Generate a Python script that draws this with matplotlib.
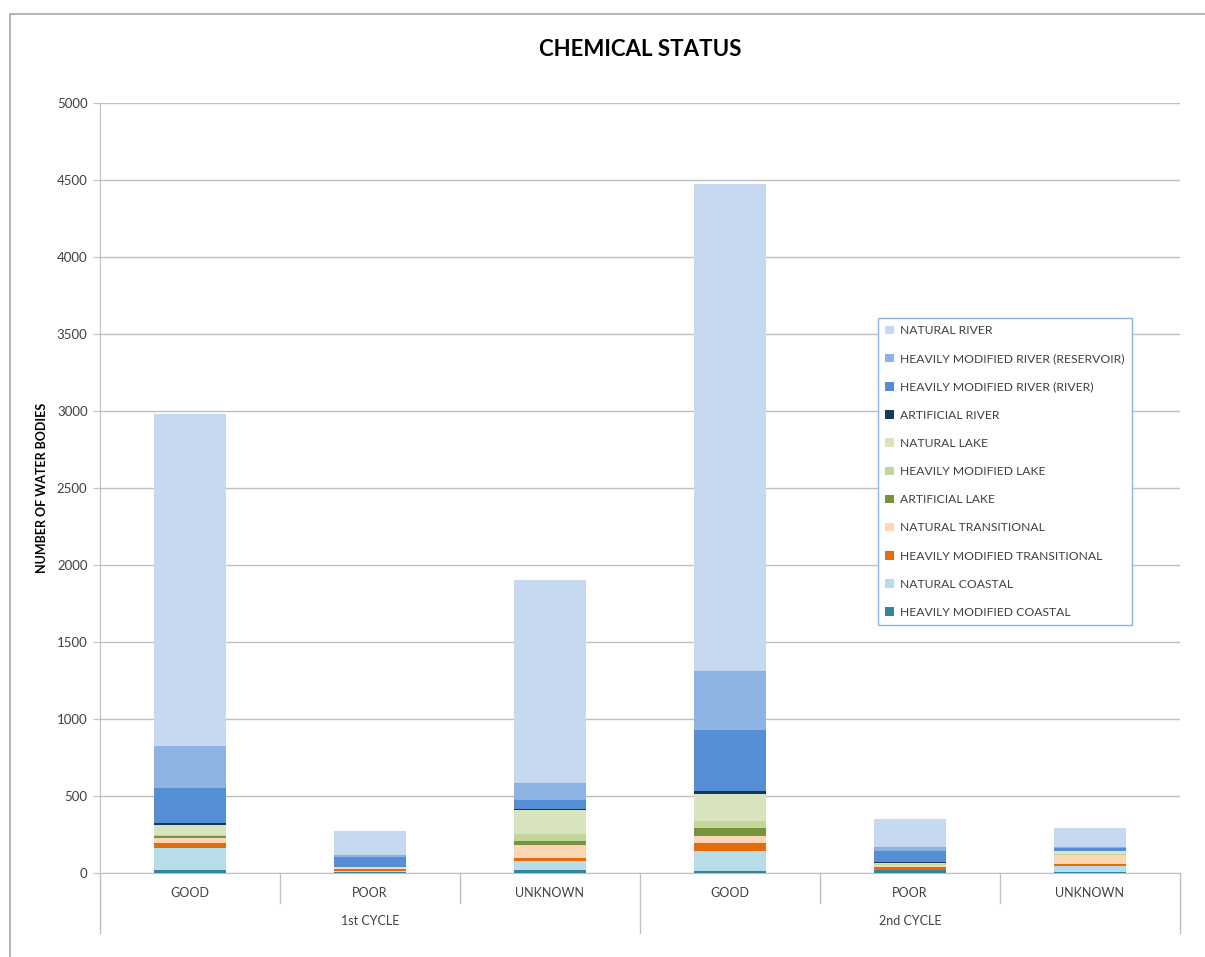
import matplotlib as mpl
import matplotlib.pyplot as plt
import numpy as np

mpl.rcParams['font.family'] = ['Lato', 'DejaVu Sans']

# Categories
statuses = ['GOOD', 'POOR', 'UNKNOWN', 'GOOD', 'POOR', 'UNKNOWN']
cycles = ['1st CYCLE', '2nd CYCLE']

# Series (bottom to top of each stack)
hm_coastal = [20, 8, 19, 15, 17, 8]
natural_coastal = [140, 8, 60, 131, 5, 37]
hm_transitional = [32, 12, 21, 47, 18, 12]
natural_transitional = [35, 12, 80, 49, 12, 58]
artificial_lake = [13, 0, 28, 47, 3, 2]
hm_lake = [8, 0, 47, 49, 3, 5]
natural_lake = [65, 2, 155, 178, 5, 20]
artificial_river = [12, 0, 6, 15, 8, 0]
hm_river_river = [225, 60, 58, 396, 73, 20]
hm_river_reservoir = [275, 13, 110, 384, 28, 5]
natural_river = [2153, 160, 1316, 3160, 180, 125]

series = [
    ('HEAVILY MODIFIED COASTAL', hm_coastal, '#31859c'),
    ('NATURAL COASTAL', natural_coastal, '#b7dee8'),
    ('HEAVILY MODIFIED TRANSITIONAL', hm_transitional, '#e46c0a'),
    ('NATURAL TRANSITIONAL', natural_transitional, '#fcd5b5'),
    ('ARTIFICIAL LAKE', artificial_lake, '#77933c'),
    ('HEAVILY MODIFIED LAKE', hm_lake, '#c3d69b'),
    ('NATURAL LAKE', natural_lake, '#d7e4bd'),
    ('ARTIFICIAL RIVER', artificial_river, '#17375e'),
    ('HEAVILY MODIFIED RIVER (RIVER)', hm_river_river, '#558ed5'),
    ('HEAVILY MODIFIED RIVER (RESERVOIR)', hm_river_reservoir, '#8db3e2'),
    ('NATURAL RIVER', natural_river, '#c6d9f1'),
]

grey = '#bfbfbf'
text_col = '#404040'

fig = plt.figure(figsize=(12.05, 9.57), dpi=100)
# outer chart frame
fig.add_artist(mpl.patches.Rectangle((10/1205, -0.05), 1.2, 1 - 14/957 + 0.05,
                                     transform=fig.transFigure, fill=False,
                                     edgecolor='#a6a6a6', lw=1.2))
ax = fig.add_axes([100/1205, 1 - 873/957, 1080/1205, 770/957])

x = np.arange(len(statuses))
bottom = np.zeros(len(statuses))
handles = []
for name, vals, col in series:
    b = ax.bar(x, vals, 0.4, bottom=bottom, color=col, label=name, zorder=3)
    bottom += np.array(vals)
    handles.append(b)

ax.set_xlim(-0.5, 5.5)
ax.set_ylim(0, 5000)
ax.set_yticks(np.arange(0, 5001, 500))
ax.yaxis.grid(True, color=grey, lw=1, zorder=0)
ax.tick_params(axis='y', length=5, color=grey, labelsize=9.5, labelcolor=text_col, pad=4)
ax.tick_params(axis='x', length=0, labelbottom=False)
for s in ['top', 'right']:
    ax.spines[s].set_visible(False)
ax.spines['left'].set_color(grey)
ax.spines['bottom'].set_color(grey)
ax.set_ylabel('NUMBER OF WATER BODIES', fontsize=9, fontweight='bold', color='black', labelpad=6)
ax.set_title('CHEMICAL STATUS', fontsize=16, fontweight='bold', pad=34)

# two-level category axis
tr = ax.get_xaxis_transform()
for i in range(7):
    xi = i - 0.5
    y_end = -0.078 if i in (0, 3, 6) else -0.039
    ax.plot([xi, xi], [0, y_end], color=grey, lw=1, transform=tr, clip_on=False)
for i, lab in enumerate(statuses):
    ax.text(i, -0.026, lab, transform=tr, ha='center', va='center', fontsize=9, color=text_col)
for j, lab in enumerate(cycles):
    ax.text(1 + 3 * j, -0.062, lab, transform=tr, ha='center', va='center', fontsize=9, color=text_col)

leg = ax.legend(handles[::-1], [s[0] for s in series][::-1], loc='upper left',
                bbox_to_anchor=(778/1080, (873 - 318)/770), borderaxespad=0,
                fontsize=8.7, labelspacing=1.42, handlelength=0.7, handleheight=0.7,
                handletextpad=0.5, borderpad=0.6, fancybox=False, framealpha=1)
leg.get_frame().set_edgecolor('#8eb4e3')
for t in leg.get_texts():
    t.set_color(text_col)

plt.savefig('out.png', dpi=100)
